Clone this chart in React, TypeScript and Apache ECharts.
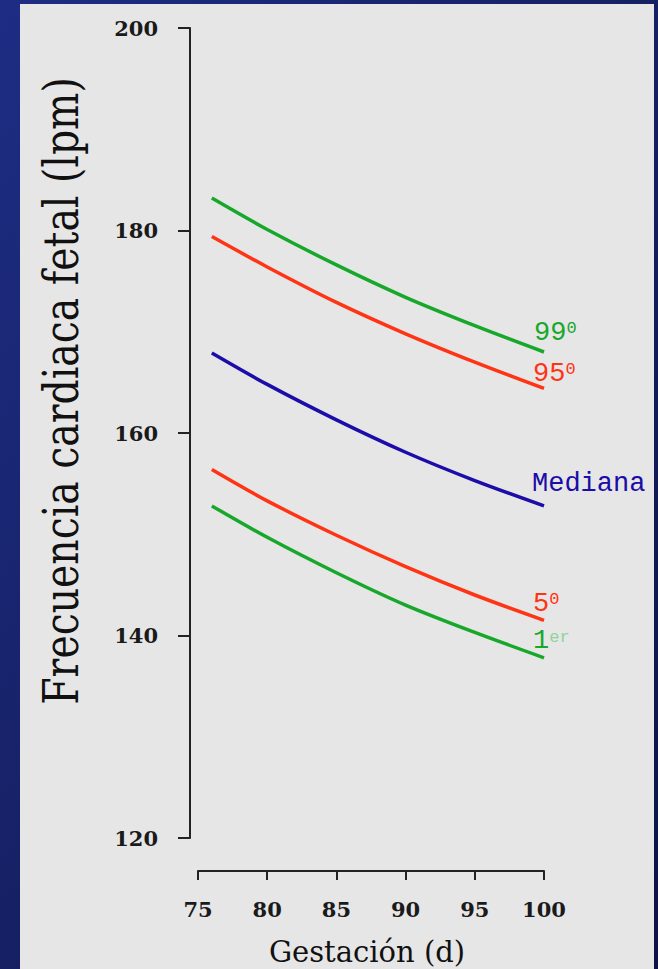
import React, { useEffect, useRef } from "react";
import * as echarts from "echarts";

// Gestational age (days) at which the centile curves are sampled
const gestationDays = [76, 80, 85, 90, 95, 100];

// Fetal heart rate centiles (bpm)
const p99 = [183.2, 180.1, 176.6, 173.4, 170.6, 168.0];
const p95 = [179.4, 176.4, 172.9, 169.8, 167.0, 164.4];
const median = [167.9, 164.8, 161.3, 158.1, 155.3, 152.8];
const p5 = [156.4, 153.3, 149.9, 146.8, 144.0, 141.5];
const p1 = [152.8, 149.7, 146.2, 143.0, 140.3, 137.8];

// Axis ranges: min, max, interval
const xRange = [75, 100, 5];
const yRange = [120, 200, 20];

const GREEN = "#17a82b";
const RED = "#ff3414";
const BLUE = "#1c0ca8";
const SERIF = '"DejaVu Serif", serif';
const MONO = '"Liberation Mono", monospace';

const curve = (
  name: string,
  values: number[],
  color: string,
  label: string,
  offset: [number, number],
  supColor: string
) => ({
  name,
  type: "line",
  data: gestationDays.map((d, i) => [d, values[i]]),
  smooth: 0.3,
  symbol: "none",
  lineStyle: { color, width: 3.5 },
  endLabel: {
    show: true,
    formatter: label,
    distance: 0,
    offset,
    align: "left",
    verticalAlign: "middle",
    rich: {
      n: { fontFamily: MONO, fontSize: 27, color, lineHeight: 26, verticalAlign: "bottom" },
      s: { fontFamily: MONO, fontSize: 17, color: supColor, verticalAlign: "top", lineHeight: 16 },
    },
  },
});

export default function App() {
  const ref = useRef<HTMLDivElement>(null);

  useEffect(() => {
    if (!ref.current) return;
    const chart = echarts.init(ref.current, null, { renderer: "svg" });
    chart.setOption({
      animation: false,
      backgroundColor: new echarts.graphic.LinearGradient(0, 0, 1, 1, [
        { offset: 0, color: "#1e2d84" },
        { offset: 1, color: "#0d1343" },
      ]),
      graphic: [
        {
          type: "rect",
          z: -1,
          shape: { x: 20, y: 4, width: 634, height: 970 },
          style: { fill: "#e6e6e6" },
        },
        {
          type: "text",
          x: 61,
          y: 391,
          rotation: Math.PI / 2,
          scaleX: 0.82,
          style: {
            text: "Frecuencia cardiaca fetal (lpm)",
            font: `48px ${SERIF}`,
            fill: "#111",
            align: "center",
            verticalAlign: "middle",
          },
        },
        {
          type: "text",
          x: 367,
          y: 952,
          style: {
            text: "Gestación (d)",
            font: `29px ${SERIF}`,
            fill: "#111",
            align: "center",
            verticalAlign: "middle",
          },
        },
      ],
      grid: { left: 198, right: 114, top: 28, bottom: 131 },
      xAxis: {
        type: "value",
        min: xRange[0],
        max: xRange[1],
        interval: xRange[2],
        offset: 33,
        splitLine: { show: false },
        axisLine: { show: true, onZero: false, lineStyle: { color: "#222", width: 2 } },
        axisTick: { show: true, length: 9, lineStyle: { color: "#222", width: 2 } },
        axisLabel: { margin: 28, fontFamily: SERIF, fontSize: 21, fontWeight: "bold", color: "#1a1a1a" },
      },
      yAxis: {
        type: "value",
        min: yRange[0],
        max: yRange[1],
        interval: yRange[2],
        offset: 8,
        splitLine: { show: false },
        axisLine: { show: true, lineStyle: { color: "#222", width: 2 } },
        axisTick: { show: true, length: 12, lineStyle: { color: "#222", width: 2 } },
        axisLabel: { margin: 32, fontFamily: SERIF, fontSize: 21, fontWeight: "bold", color: "#1a1a1a" },
      },
      series: [
        curve("99", p99, GREEN, "{n|99}{s|0}", [-10, -19], GREEN),
        curve("95", p95, RED, "{n|95}{s|0}", [-11, -14], RED),
        curve("Mediana", median, BLUE, "{n|Mediana}", [-12, -21], BLUE),
        curve("5", p5, RED, "{n|5}{s|0}", [-11, -16], RED),
        curve("1", p1, GREEN, "{n|1}{s|er}", [-11, -16], "#8fd49a"),
      ],
    });
    return () => chart.dispose();
  }, []);

  return (
    <div
      ref={ref}
      style={{ position: "fixed", left: 0, top: 0, width: 658, height: 969 }}
    />
  );
}
